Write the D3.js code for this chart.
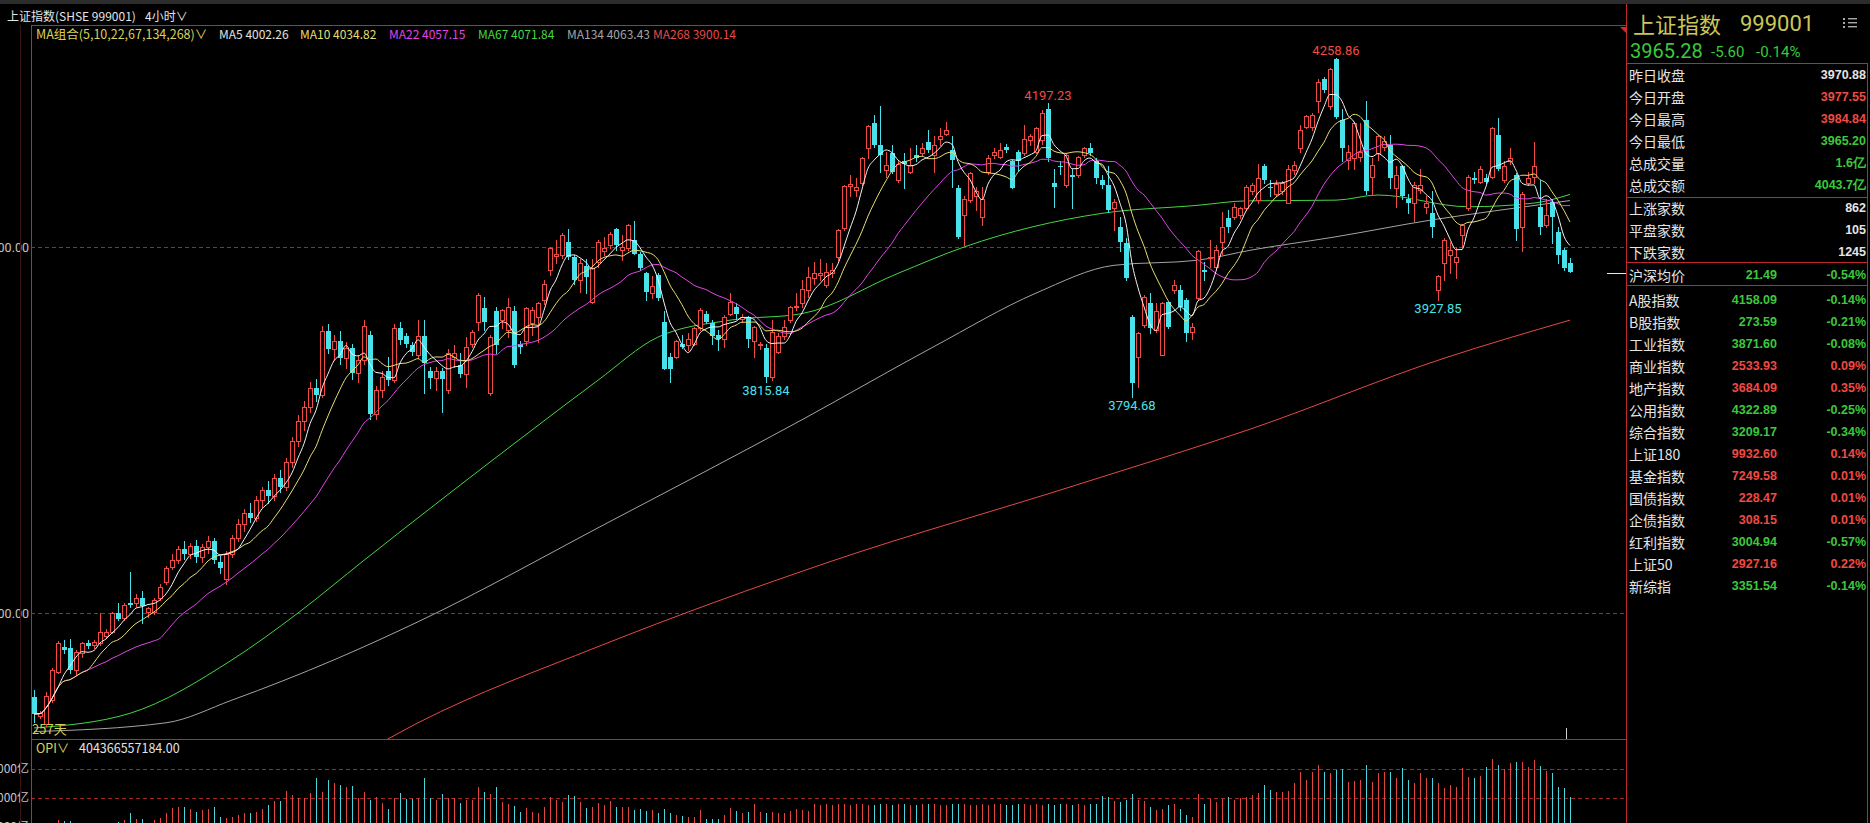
<!DOCTYPE html>
<html lang="zh">
<head>
<meta charset="UTF-8">
<title>上证指数 4小时</title>
<script src="https://cdn.jsdelivr.net/npm/d3@7/dist/d3.min.js"></script>
<style>
  body { margin: 0; background: #000; overflow: hidden; }
  svg { display: block; }
  text { font-family: "Noto Sans CJK SC", Roboto, "DejaVu Sans", sans-serif; }
</style>
</head>
<body>
<script>
const [width, height] = [1870, 823]

// 4小时K线 [开, 高, 低, 收]
const ohlc = [
  [3385,3395,3351,3362],[3359,3366,3356,3363],[3349,3392,3345,3386],[3381,3425,3378,3422],[3420,3462,3418,3459],
  [3453,3463,3445,3449],[3452,3464,3418,3422],[3422,3450,3415,3447],[3445,3460,3440,3459],[3459,3463,3452,3455],
  [3456,3463,3452,3461],[3459,3500,3456,3474],[3469,3478,3466,3474],[3474,3502,3472,3500],[3500,3513,3490,3492],
  [3493,3513,3490,3511],[3513,3556,3508,3511],[3514,3526,3510,3520],[3520,3530,3486,3509],[3501,3508,3495,3507],
  [3501,3520,3498,3518],[3520,3540,3518,3536],[3543,3564,3540,3561],[3563,3580,3560,3572],[3572,3592,3568,3588],
  [3588,3598,3574,3580],[3580,3596,3575,3592],[3592,3600,3570,3576],[3576,3594,3570,3590],[3590,3605,3582,3598],
  [3598,3602,3568,3572],[3570,3578,3555,3561],[3547,3585,3540,3580],[3580,3606,3576,3602],[3602,3628,3598,3622],
  [3622,3642,3612,3636],[3636,3650,3625,3630],[3630,3660,3626,3655],[3655,3672,3645,3668],[3668,3680,3650,3660],
  [3660,3690,3655,3684],[3684,3695,3665,3672],[3672,3712,3668,3706],[3706,3740,3700,3735],[3735,3770,3728,3762],
  [3762,3790,3750,3782],[3782,3815,3775,3808],[3808,3820,3790,3798],[3798,3892,3795,3885],[3885,3895,3855,3860],
  [3860,3880,3845,3872],[3872,3885,3840,3848],[3848,3870,3835,3862],[3862,3868,3820,3828],[3828,3852,3815,3846],
  [3846,3900,3840,3892],[3880,3885,3765,3772],[3772,3810,3765,3805],[3805,3830,3795,3822],[3830,3850,3812,3818],
  [3818,3895,3815,3890],[3890,3898,3868,3873],[3878,3882,3864,3868],[3866,3870,3852,3857],[3852,3900,3848,3878],
  [3878,3900,3800,3841],[3830,3836,3807,3821],[3821,3836,3805,3830],[3830,3835,3775,3820],[3804,3860,3800,3855],
  [3850,3866,3836,3855],[3839,3855,3822,3827],[3827,3877,3809,3864],[3868,3886,3864,3884],[3898,3937,3886,3934],
  [3916,3932,3886,3898],[3800,3880,3798,3877],[3912,3918,3855,3866],[3900,3915,3890,3914],[3886,3930,3877,3918],
  [3912,3920,3836,3839],[3868,3872,3855,3864],[3871,3918,3866,3916],[3896,3918,3880,3914],[3905,3925,3870,3923],
  [3928,3955,3922,3950],[3968,4000,3962,3998],[3988,4010,3978,3990],[3989,4019,3985,4016],[4007,4025,3984,3987],
  [3987,3989,3950,3955],[3955,3984,3939,3978],[3974,3984,3937,3959],[3925,3984,3923,3971],[3980,4010,3973,4007],
  [3994,4014,3989,3998],[4003,4020,3998,4018],[4025,4026,3996,4003],[3996,4016,3982,4000],[3998,4032,3996,4030],
  [4010,4035,3991,3991],[3991,3993,3968,3971],[3964,3966,3928,3939],[3937,3960,3930,3947],[3962,3965,3928,3930],
  [3898,3912,3834,3834],[3850,3855,3816,3834],[3850,3873,3848,3871],[3868,3880,3862,3864],[3866,3882,3859,3875],
  [3868,3891,3866,3889],[3889,3916,3886,3914],[3909,3912,3896,3898],[3896,3900,3868,3878],[3880,3886,3859,3875],
  [3875,3907,3864,3905],[3909,3937,3907,3925],[3918,3923,3902,3909],[3902,3908,3898,3905],[3905,3906,3864,3875],
  [3871,3892,3850,3891],[3866,3870,3860,3868],[3862,3868,3815.84,3823],[3823,3900,3818,3884],[3857,3882,3855,3878],
  [3878,3900,3875,3891],[3900,3920,3898,3918],[3918,3937,3914,3920],[3923,3955,3918,3943],[3941,3973,3932,3959],
  [3957,3980,3950,3964],[3962,3984,3955,3964],[3948,3978,3946,3966],[3964,3978,3959,3968],[3987,4025,3982,4023],
  [4026,4085,4023,4083],[4084,4098,4069,4086],[4078,4094,4069,4082],[4087,4123,4085,4121],[4135,4167,4121,4165],
  [4169,4180,4137,4139],[4139,4192,4103,4126],[4105,4130,4096,4112],[4128,4139,4101,4103],[4091,4119,4089,4114],
  [4117,4128,4080,4113],[4103,4135,4101,4112],[4126,4139,4118,4121],[4128,4142,4126,4135],[4144,4160,4130,4132],
  [4126,4151,4103,4139],[4148,4162,4140,4151],[4155,4171,4153,4160],[4132,4151,4082,4119],[4080,4085,4012,4014],
  [4044,4069,4003,4066],[4064,4103,4062,4101],[4070,4082,4050,4076],[4041,4082,4030,4066],[4103,4126,4100,4121],
  [4126,4135,4122,4130],[4123,4142,4121,4132],[4137,4141,4130,4133],[4117,4119,4080,4080],[4130,4132,4105,4117],
  [4128,4167,4126,4148],[4146,4155,4140,4151],[4130,4164,4128,4162],[4146,4187,4141,4183],[4189,4197.23,4117,4121],
  [4087,4107,4055,4082],[4111,4117,4100,4109],[4085,4128,4082,4126],[4098,4107,4053,4096],[4098,4125,4095,4123],
  [4126,4137,4123,4135],[4135,4142,4126,4128],[4117,4121,4087,4094],[4091,4098,4080,4085],[4085,4110,4048,4050],
  [4053,4066,4023,4062],[4028,4041,3994,4007],[4005,4012,3955,3957],[3905,3907,3794.68,3814],[3850,3884,3809,3882],
  [3893,3934,3891,3932],[3923,3937,3882,3889],[3887,3923,3884,3912],[3852,3925,3852,3923],[3925,3925,3889,3891],
  [3941,3955,3937,3948],[3941,3948,3914,3918],[3928,3930,3871,3882],[3884,3896,3875,3891],[3930,3996,3928,3994],
  [3969,3980,3955,3966],[3985,4010,3973,3987],[3973,4003,3970,3996],[4007,4048,3991,4028],[4039,4051,4021,4028],
  [4041,4060,4038,4055],[4044,4055,4040,4053],[4053,4085,4050,4082],[4076,4087,4072,4085],[4064,4114,4060,4094],
  [4111,4114,4088,4091],[4082,4092,4069,4080],[4073,4092,4070,4086],[4076,4090,4073,4087],[4060,4112,4060,4107],
  [4105,4117,4100,4112],[4135,4167,4130,4160],[4164,4180,4162,4179],[4164,4183,4160,4180],[4199,4230,4185,4226],
  [4229,4232,4212,4214],[4192,4244,4189,4243],[4257,4258.86,4176,4177],[4173,4189,4117,4135],[4119,4139,4107,4130],
  [4121,4171,4107,4169],[4123,4169,4118,4130],[4173,4199,4073,4076],[4096,4121,4071,4112],[4128,4153,4119,4151],
  [4137,4151,4132,4145],[4139,4153,4080,4094],[4080,4110,4055,4098],[4110,4112,4066,4069],[4066,4073,4046,4060],
  [4060,4089,4035,4085],[4078,4107,4074,4085],[4055,4069,4046,4060],[4046,4076,4014,4028],[3941,3962,3927.85,3960],
  [3978,4012,3955,4010],[3989,4007,3964,3996],[3980,4000,3957,3987],[4016,4032,4000,4030],[4053,4098,4051,4096],
  [4094,4103,4087,4091],[4089,4110,4087,4107],[4094,4100,4087,4089],[4096,4164,4094,4162],[4153,4176,4105,4107],
  [4091,4117,4089,4110],[4117,4135,4114,4121],[4098,4101,4010,4025],[4028,4075,3994,4073],[4087,4103,4085,4094],
  [4096,4144,4087,4111],[4055,4091,4018,4028],[4030,4066,4028,4044],[4062,4066,4005,4041],[4021,4028,3978,3989],
  [3996,3998,3969,3971],[3977.55,3984.84,3965.20,3965.28]
]

// 成交额 (亿)
const volumes = [
  2100,1900,2200,2000,2483,2437,2437,2150,2050,2100,2200,2250,2100,2150,
  2368,2483,2943,2529,2529,2200,2483,2598,2943,3288,3357,3402,3219,3057,3173,3219,3357,
  2667,2598,2667,2828,2943,2943,3057,3219,3517,3816,3816,4506,4207,3977,3977,4322,5357,4437,5242,5012,
  4897,4782,4828,3977,4437,3862,4046,3678,3219,3977,4322,3931,3931,3977,5357,3977,3862,4276,3977,3977,
  3678,3862,3862,4782,4437,4276,4736,3747,3586,3449,3057,3288,3057,2943,3357,4092,3862,3747,4184,4138,
  3747,3288,3357,3678,3517,3816,3357,3357,3402,3173,3219,3127,3173,2943,3219,2943,2828,2759,2667,2667,
  3173,2529,2529,2529,2828,3288,3127,2943,3057,3586,3057,2943,3057,2943,2989,3127,3219,3173,3127,3586,
  3540,3600,3520,3580,3560,3510,3590,3620,3540,3500,3570,3600,3530,3560,3590,3510,3550,3600,3620,3570,
  3540,3500,3560,3590,3610,3530,3550,3580,3520,3560,3600,3540,3510,3570,3590,3550,3600,3530,3560,3520,
  3580,3610,3540,3560,3500,3570,3590,
  4161,4092,3816,3747,3862,4276,3862,3816,3357,3173,3219,3517,3586,3219,2828,2667,4276,3586,3908,3747,
  3908,4092,3862,3977,4092,4207,4322,4897,4552,4437,4437,4506,5012,5817,5242,5817,6277,5817,5747,5932,
  5978,5127,5196,5242,6277,5127,5747,5817,5817,5357,6047,5242,5012,5702,5357,5357,5012,4667,4897,4782,
  6047,5472,5357,5518,6162,6668,6277,5978,6392,6507,6507,6116,6622,6208,5886,5702,4736,4667,4044
]

// 长周期均线读数 [K线序号, 值]
const ma67Pts = [[0,3343],[16,3363],[33,3436],[44,3500],[55,3572],[83,3750],[94,3818],[104,3877],[116,3900],
  [128,3909],[144,3964],[155,4000],[178,4046],[194,4057],[202,4063],[217,4064],[224,4071],[239,4055],[250,4060],[256,4071.84]]
const ma134Pts = [[0,3338],[22,3350],[33,3381],[50,3436],[64,3488],[96,3625],[128,3764],[150,3864],[167,3937],
  [180,3975],[194,3982],[203,3996],[217,4014],[233,4037],[244,4050],[256,4063.43]]
const ma268Pts = [[50,3292],[56,3315],[64,3350],[94,3454],[133,3571],[173,3673],[203,3752],[235,3848],[256,3900.14]]

const priceTicks = [3500, 4000]
const volTicks = [2000, 4000, 6000]
const peakIdx = [169, 217]
const troughIdx = [122, 183, 234]

const maNames = ['MA5', 'MA10', 'MA22', 'MA67', 'MA134', 'MA268']
const maValues = [4002.26, 4034.82, 4057.15, 4071.84, 4063.43, 3900.14]
const opiValue = '404366557184.00'

const lastPrice = 3965.28, change = -5.60, changePct = -0.14, prevClose = 3970.88
const quoteLabels = ['昨日收盘', '今日开盘', '今日最高', '今日最低', '总成交量', '总成交额']
const quoteValues = ['3970.88', '3977.55', '3984.84', '3965.20', '1.6亿', '4043.7亿']
const breadthLabels = ['上涨家数', '平盘家数', '下跌家数']
const breadthValues = [862, 105, 1245]
const avgLabel = '沪深均价', avgValue = 21.49, avgPct = -0.54
const indexNames = ['A股指数', 'B股指数', '工业指数', '商业指数', '地产指数', '公用指数', '综合指数',
  '上证180', '基金指数', '国债指数', '企债指数', '红利指数', '上证50', '新综指']
const indexValues = [4158.09, 273.59, 3871.60, 2533.93, 3684.09, 4322.89, 3209.17, 9932.60, 7249.58, 228.47, 308.15, 3004.94, 2927.16, 3351.54]
const indexPcts = [-0.14, -0.21, -0.08, 0.09, 0.35, -0.25, -0.34, 0.14, 0.01, 0.01, 0.01, -0.57, 0.22, -0.14]

const UP = '#f04a44', DOWN = '#4ae2ea', FRAME = '#c02a2e', GRID = '#a32828'
const GREEN = '#3cc83c', WHITE = '#e4e4e4'
const maColors = ['#f4f4f4', '#e6de72', '#e044e6', '#44d644', '#a4a4a4', '#e44a48']

const [plotL, plotR, plotT, mainBottom] = [31, 1626, 25, 739]
const x = d3.scaleLinear().domain([0, ohlc.length - 1]).range([34, 1570])
const y = d3.scaleLinear().domain([3500, 4000]).range([613, 247])
const yv = d3.scaleLinear().domain([0, 6000]).range([856, 769])

const bars = ohlc.map(([o, h, l, c], i) => ({i, o, h, l, c, up: c >= o}))

const svg = d3.select('body').append('svg').attr('width', width).attr('height', height)
svg.append('rect').attr('width', width).attr('height', height).attr('fill', '#000')
svg.append('rect').attr('width', width).attr('height', 4).attr('fill', '#2c2c2c')

const defs = svg.append('defs')
defs.append('clipPath').attr('id', 'clipMain').append('rect')
  .attr('x', plotL + 1).attr('y', plotT + 1).attr('width', plotR - plotL - 1).attr('height', mainBottom - plotT - 1)
defs.append('clipPath').attr('id', 'clipVol').append('rect')
  .attr('x', plotL + 1).attr('y', mainBottom + 1).attr('width', plotR - plotL - 1).attr('height', height - mainBottom)

// header
svg.append('text').attr('x', 7).attr('y', 15).attr('dominant-baseline', 'central')
  .attr('fill', WHITE).style('font-size', '12px').text('上证指数(SHSE 999001)')
svg.append('text').attr('x', 145).attr('y', 15).attr('dominant-baseline', 'central')
  .attr('fill', WHITE).style('font-size', '12px').text('4小时∨')

// gridlines & labels
const gridG = svg.append('g').attr('transform', `translate(${plotL},0)`)
  .call(d3.axisLeft(y).tickValues(priceTicks).tickSize(-(plotR - plotL)).tickFormat(''))
gridG.select('.domain').remove()
gridG.selectAll('line').attr('stroke', GRID).attr('stroke-dasharray', '4,3')
const yAxisG = svg.append('g').attr('transform', 'translate(29,0)')
  .call(d3.axisLeft(y).tickValues(priceTicks).tickSize(0).tickPadding(0).tickFormat(d => d.toFixed(2)))
yAxisG.select('.domain').remove()
yAxisG.selectAll('text').attr('fill', '#c4c4c4').style('font-size', '12.5px').style('font-family', 'Roboto, sans-serif')

const vGridG = svg.append('g').attr('transform', `translate(${plotL},0)`)
  .call(d3.axisLeft(yv).tickValues(volTicks.slice(1)).tickSize(-(plotR - plotL)).tickFormat(''))
vGridG.select('.domain').remove()
vGridG.selectAll('line').attr('stroke', GRID).attr('stroke-dasharray', '4,3')
const vAxisG = svg.append('g').attr('transform', 'translate(29,0)')
  .call(d3.axisLeft(yv).tickValues(volTicks).tickSize(0).tickPadding(0).tickFormat(d => d + '亿'))
vAxisG.select('.domain').remove()
vAxisG.selectAll('text').attr('fill', '#c4c4c4').style('font-size', '12px')

// moving averages
const closes = bars.map(d => d.c)
const sma = n => closes.map((c, i) => d3.mean(closes.slice(Math.max(0, i - n + 1), i + 1)))
const maLine = d3.line().x((d, i) => x(i)).y(d => y(d)).curve(d3.curveMonotoneX)
const ptsLine = d3.line().x(d => x(d[0])).y(d => y(d[1])).curve(d3.curveMonotoneX)

const main = svg.append('g').attr('clip-path', 'url(#clipMain)')
;[[ma268Pts, 5], [ma134Pts, 4], [ma67Pts, 3]].forEach(([pts, k]) => {
  main.append('path').attr('d', ptsLine(pts)).attr('fill', 'none').attr('stroke', maColors[k]).attr('stroke-width', 1)
})

// candles
const candle = main.selectAll('g.candle').data(bars).join('g').attr('class', 'candle')
candle.append('line')
  .attr('x1', d => x(d.i) + 0.5).attr('x2', d => x(d.i) + 0.5)
  .attr('y1', d => Math.round(y(d.h))).attr('y2', d => Math.round(y(d.l)) + 1)
  .attr('stroke', d => d.up ? UP : DOWN).attr('stroke-width', 1)
candle.filter(d => d.up).append('rect')
  .attr('x', d => x(d.i) - 1.5).attr('width', 4)
  .attr('y', d => Math.round(y(d.c)) + 0.5)
  .attr('height', d => Math.max(1, Math.round(y(d.o)) - Math.round(y(d.c))))
  .attr('fill', '#000').attr('stroke', UP).attr('stroke-width', 1)
candle.filter(d => !d.up).append('rect')
  .attr('x', d => x(d.i) - 2).attr('width', 5)
  .attr('y', d => Math.round(y(d.o)))
  .attr('height', d => Math.max(1, Math.round(y(d.c)) - Math.round(y(d.o))))
  .attr('fill', DOWN)

;[[22, 2], [10, 1], [5, 0]].forEach(([n, k]) => {
  main.append('path').attr('d', maLine(sma(n))).attr('fill', 'none').attr('stroke', maColors[k]).attr('stroke-width', 1)
})

// high / low marks
main.selectAll('text.peak').data(peakIdx).join('text').attr('class', 'peak')
  .attr('x', i => x(i)).attr('y', i => y(bars[i].h) - 3).attr('text-anchor', 'middle')
  .attr('fill', UP).style('font-size', '13px').style('font-family', 'Roboto, sans-serif')
  .text(i => bars[i].h.toFixed(2))
main.selectAll('text.trough').data(troughIdx).join('text').attr('class', 'trough')
  .attr('x', i => x(i)).attr('y', i => y(bars[i].l) + 13).attr('text-anchor', 'middle')
  .attr('fill', DOWN).style('font-size', '13px').style('font-family', 'Roboto, sans-serif')
  .text(i => bars[i].l.toFixed(2))

svg.append('text').attr('x', 32).attr('y', 728).attr('dominant-baseline', 'central')
  .attr('fill', '#d2cc5a').style('font-size', '13px').text(bars.length + '天')

// legend
const legendX = [219, 300, 389, 478, 567, 653]
svg.append('text').attr('x', 36).attr('y', 33).attr('dominant-baseline', 'central')
  .attr('fill', '#d8d25c').style('font-size', '12.5px').text('MA组合(5,10,22,67,134,268)∨')
svg.selectAll('text.leg').data(maNames).join('text').attr('class', 'leg')
  .attr('x', (d, i) => legendX[i]).attr('y', 33).attr('dominant-baseline', 'central')
  .attr('fill', (d, i) => i === 0 ? '#e0e0e0' : maColors[i]).style('font-size', '12px')
  .text((d, i) => d + ' ' + maValues[i].toFixed(2))

// volume
const vol = svg.append('g').attr('clip-path', 'url(#clipVol)')
vol.selectAll('rect').data(volumes).join('rect')
  .attr('x', (d, i) => x(i)).attr('width', 1)
  .attr('y', d => Math.round(yv(d))).attr('height', d => height - Math.round(yv(d)) + 2)
  .attr('fill', (d, i) => bars[i].up ? '#e0453f' : '#4cd4dc')
svg.append('text').attr('x', 36).attr('y', 747).attr('dominant-baseline', 'central')
  .attr('fill', '#d8d25c').style('font-size', '12.5px').text('OPI∨')
svg.append('text').attr('x', 79).attr('y', 747).attr('dominant-baseline', 'central')
  .attr('fill', WHITE).style('font-size', '12.5px').text(opiValue)

// frame
const frame = svg.append('g').attr('stroke', FRAME).attr('stroke-width', 1).attr('fill', 'none')
frame.append('line').attr('x1', plotL).attr('x2', plotR).attr('y1', plotT + 0.5).attr('y2', plotT + 0.5)
frame.append('line').attr('x1', plotL).attr('x2', plotR).attr('y1', mainBottom + 0.5).attr('y2', mainBottom + 0.5)
frame.append('line').attr('x1', plotL + 0.5).attr('x2', plotL + 0.5).attr('y1', plotT).attr('y2', height)
frame.append('line').attr('x1', plotR + 0.5).attr('x2', plotR + 0.5).attr('y1', 4).attr('y2', height)
frame.append('line').attr('x1', plotR + 0.5).attr('x2', 1868).attr('y1', 63.5).attr('y2', 63.5)
frame.append('line').attr('x1', 1867.5).attr('x2', 1867.5).attr('y1', 63).attr('y2', height)
;[197.5, 262.5, 285.5].forEach(v => frame.append('line').attr('x1', plotR).attr('x2', 1868).attr('y1', v).attr('y2', v))
svg.append('line').attr('x1', 20.5).attr('x2', 20.5).attr('y1', plotT).attr('y2', height).attr('stroke', '#3a1212')
svg.append('path').attr('d', 'M1620,27H1627V34Z').attr('fill', '#d02a2a')
svg.append('line').attr('x1', 1607).attr('x2', plotR).attr('y1', 273.5).attr('y2', 273.5).attr('stroke', '#e8e8e8')
svg.append('line').attr('x1', 1566.5).attr('x2', 1566.5).attr('y1', 728).attr('y2', mainBottom).attr('stroke', '#d0d0d0')

// side panel
const side = svg.append('g')
side.append('text').attr('x', 1633).attr('y', 23).attr('dominant-baseline', 'central')
  .attr('fill', '#c9c65a').style('font-size', '22px').text('上证指数')
side.append('text').attr('x', 1740).attr('y', 23).attr('dominant-baseline', 'central')
  .attr('fill', '#c9c65a').style('font-size', '22px').style('font-family', 'Roboto, sans-serif').text('999001')
;[0, 1, 2].forEach(k => {
  side.append('rect').attr('x', 1843).attr('y', 18 + k * 4).attr('width', 2).attr('height', 2).attr('fill', '#a8a8a8')
  side.append('rect').attr('x', 1848).attr('y', 18 + k * 4).attr('width', 9).attr('height', 1.4).attr('fill', '#a8a8a8')
})
const chgColor = change < 0 ? GREEN : UP
side.append('text').attr('x', 1630).attr('y', 51).attr('dominant-baseline', 'central')
  .attr('fill', chgColor).style('font-size', '20px').style('font-family', 'Roboto, sans-serif').text(lastPrice.toFixed(2))
side.append('text').attr('x', 1711).attr('y', 52).attr('dominant-baseline', 'central')
  .attr('fill', chgColor).style('font-size', '15px').style('font-family', 'Roboto, sans-serif').text(change.toFixed(2))
side.append('text').attr('x', 1756).attr('y', 52).attr('dominant-baseline', 'central')
  .attr('fill', chgColor).style('font-size', '15px').style('font-family', 'Roboto, sans-serif').text(changePct.toFixed(2) + '%')

const rowLabel = (t, yy) => side.append('text').attr('x', 1629).attr('y', yy).attr('dominant-baseline', 'central')
  .attr('fill', WHITE).style('font-size', '14px').text(t)
const rowValue = (t, xx, yy, c) => side.append('text').attr('x', xx).attr('y', yy).attr('dominant-baseline', 'central')
  .attr('text-anchor', 'end').attr('fill', c).style('font-size', '12.5px').style('font-weight', 'bold')
  .style('font-family', '"Liberation Sans", Arial, sans-serif').text(t)
const signColor = v => v > 0 ? UP : v < 0 ? GREEN : WHITE

quoteLabels.forEach((t, k) => {
  const yy = 75 + k * 21.9
  rowLabel(t, yy)
  const c = k === 0 ? WHITE : k < 4 ? signColor(parseFloat(quoteValues[k]) - prevClose) : signColor(change)
  rowValue(quoteValues[k], 1866, yy, c)
})
breadthLabels.forEach((t, k) => {
  const yy = 208 + k * 22
  rowLabel(t, yy)
  rowValue(String(breadthValues[k]), 1866, yy, WHITE)
})
rowLabel(avgLabel, 275)
rowValue(avgValue.toFixed(2), 1777, 275, signColor(avgPct))
rowValue(avgPct.toFixed(2) + '%', 1866, 275, signColor(avgPct))
indexNames.forEach((t, k) => {
  const yy = 300 + k * 22
  rowLabel(t, yy)
  rowValue(indexValues[k].toFixed(2), 1777, yy, signColor(indexPcts[k]))
  rowValue(indexPcts[k].toFixed(2) + '%', 1866, yy, signColor(indexPcts[k]))
})
</script>
</body>
</html>
